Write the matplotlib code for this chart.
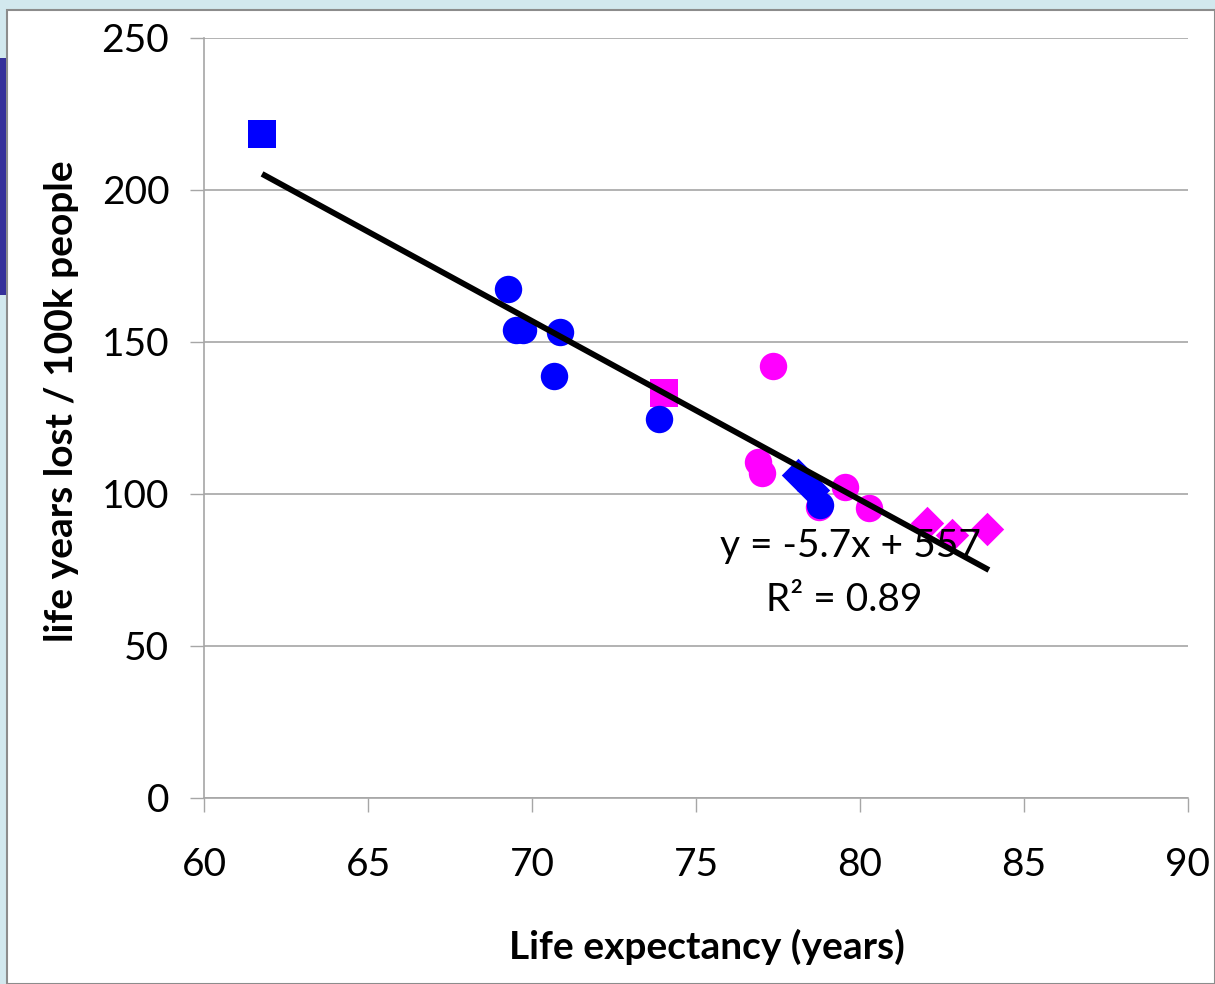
import matplotlib.pyplot as plt
from matplotlib.patches import Rectangle
import numpy as np

plt.rcParams['font.family'] = ['Lato', 'DejaVu Sans']

# blue series
blue_sq_x = [61.77]
blue_sq_y = [218.4]
blue_circ_x = [69.27, 69.52, 69.72, 70.85, 70.67, 73.87, 78.78]
blue_circ_y = [167.4, 153.9, 153.9, 153.3, 138.8, 124.7, 96.3]
blue_dia_x = [78.11, 78.57]
blue_dia_y = [106.2, 101.3]

# magenta series
mag_sq_x = [74.02]
mag_sq_y = [133.2]
mag_circ_x = [77.35, 76.89, 77.01, 78.74, 79.54, 80.27]
mag_circ_y = [142.1, 110.5, 106.9, 95.7, 102.3, 95.4]
mag_dia_x = [82.04, 82.80, 83.87]
mag_dia_y = [90.5, 86.5, 88.5]

# trend line as drawn
trend_x = [61.77, 83.93]
trend_slope = -5.88
trend_icpt = 568.5
eq_text = "y = -5.7x + 557"
r2_text = "R² = 0.89"

xticks = [60, 65, 70, 75, 80, 85, 90]
yticks = [0, 50, 100, 150, 200, 250]

BLUE = '#0000ff'
MAG = '#ff00ff'

dpi = 100
fig = plt.figure(figsize=(12.15, 9.84), dpi=dpi, facecolor='#d2e8ee')

# slide frame
fig.patches.append(Rectangle((7/1215, 0), 1 - 7/1215, 1 - 10/984, transform=fig.transFigure,
                             facecolor='white', edgecolor='#8c8c8c', lw=1.5, zorder=-2))
fig.patches.append(Rectangle((0, (984-295)/984), 6/1215, 237/984, transform=fig.transFigure,
                             facecolor='#35309a', edgecolor='none', zorder=-1))

ax = fig.add_axes([204/1215, 186/984, 984/1215, 760/984])
ax.set_facecolor('none')

ax.scatter(mag_circ_x, mag_circ_y, s=390, marker='o', color=MAG, linewidths=0, zorder=3)
ax.scatter(mag_sq_x, mag_sq_y, s=400, marker='s', color=MAG, linewidths=0, zorder=3)
ax.scatter(mag_dia_x, mag_dia_y, s=290, marker='D', color=MAG, linewidths=0, zorder=3)
ax.scatter(blue_circ_x, blue_circ_y, s=390, marker='o', color=BLUE, linewidths=0, zorder=4)
ax.scatter(blue_sq_x, blue_sq_y, s=400, marker='s', color=BLUE, linewidths=0, zorder=4)
ax.scatter(blue_dia_x, blue_dia_y, s=290, marker='D', color=BLUE, linewidths=0, zorder=4)

tx = np.array(trend_x)
ax.plot(tx, trend_slope * tx + trend_icpt, color='black', lw=4.2, zorder=5, solid_capstyle='butt')

ax.text(0.657, 0.332, eq_text, transform=ax.transAxes, ha='center', va='center', fontsize=28, zorder=6)
ax.text(0.651, 0.26, r2_text, transform=ax.transAxes, ha='center', va='center', fontsize=28, zorder=6)

ax.set_xlim(60, 90)
ax.set_ylim(0, 250)
ax.set_xticks(xticks)
ax.set_yticks(yticks)
ax.grid(axis='y', color='#a6a6a6', lw=1.2)
ax.set_axisbelow(True)
for s in ['top', 'right']:
    ax.spines[s].set_visible(False)
for s in ['left', 'bottom']:
    ax.spines[s].set_color('#a6a6a6')
    ax.spines[s].set_linewidth(1.2)
ax.tick_params(axis='y', direction='out', length=10, width=1, color='#a6a6a6', labelsize=28, pad=15)
ax.tick_params(axis='x', direction='out', length=10, width=1, color='#a6a6a6', labelsize=28, pad=25)

ax.set_xlabel("Life expectancy (years)", fontsize=28, fontweight='bold', labelpad=33)
ax.set_ylabel("life years lost / 100k people", fontsize=28, fontweight='bold', labelpad=16)
ax.xaxis.label.set_x(0.511)
ax.yaxis.label.set_y(0.522)

fig.savefig("out.png", dpi=dpi, facecolor=fig.get_facecolor())
